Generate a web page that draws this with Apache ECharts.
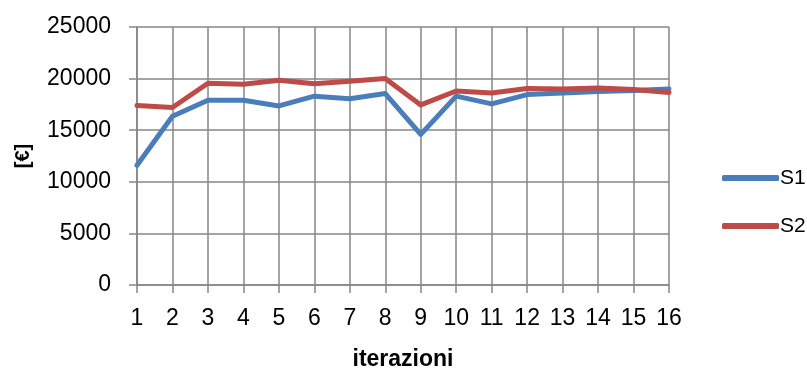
<!DOCTYPE html>
<html>
<head>
<meta charset="utf-8">
<script src="https://cdn.jsdelivr.net/npm/echarts@6/dist/echarts.min.js"></script>
<style>html,body{margin:0;padding:0;background:#fff}#c{width:807px;height:369px}</style>
</head>
<body>
<div id="c"></div>
<script>
var categories = ['1','2','3','4','5','6','7','8','9','10','11','12','13','14','15','16'];
var s1 = [11600, 16350, 17900, 17900, 17350, 18300, 18050, 18550, 14600, 18300, 17550, 18450, 18600, 18750, 18850, 19000];
var s2 = [17400, 17200, 19550, 19450, 19850, 19500, 19750, 20000, 17450, 18800, 18600, 19050, 19000, 19100, 18950, 18650];
var seriesNames = ['S1', 'S2'];
var yTicks = {min: 0, max: 25000, interval: 5000};

var font = 'Liberation Sans';
var gridColor = '#868686';
var chart = echarts.init(document.getElementById('c'), null, {renderer: 'canvas'});
chart.setOption({
  animation: false,
  backgroundColor: '#fff',
  grid: {left: 137, right: 138, top: 27, bottom: 84, containLabel: false, outerBoundsMode: 'none'},
  xAxis: {
    type: 'category',
    data: categories,
    boundaryGap: false,
    name: 'iterazioni',
    nameLocation: 'middle',
    nameGap: 63,
    nameTextStyle: {fontFamily: font, fontWeight: 'bold', fontSize: 23, color: '#000'},
    axisLine: {lineStyle: {color: gridColor, width: 1.5}},
    axisTick: {show: true, inside: false, length: 8, lineStyle: {color: gridColor, width: 1.5}},
    axisLabel: {fontFamily: font, fontSize: 23, color: '#000', margin: 22, interval: 0},
    splitLine: {show: true, lineStyle: {color: gridColor, width: 1.5}}
  },
  yAxis: {
    type: 'value',
    min: yTicks.min, max: yTicks.max, interval: yTicks.interval,
    name: '[€]',
    nameLocation: 'middle',
    nameGap: 104,
    nameRotate: 90,
    nameTextStyle: {fontFamily: font, fontWeight: 'bold', fontSize: 20, color: '#000'},
    axisLine: {show: true, lineStyle: {color: gridColor, width: 1.5}},
    axisTick: {show: true, inside: false, length: 8, lineStyle: {color: gridColor, width: 1.5}},
    axisLabel: {fontFamily: font, fontSize: 23, color: '#000', margin: 26, formatter: function (v) { return String(v); }},
    splitLine: {show: true, lineStyle: {color: gridColor, width: 1.5}}
  },
  legend: {
    orient: 'vertical',
    left: 722,
    top: 167,
    padding: 0,
    itemWidth: 57,
    itemHeight: 6,
    itemGap: 26,
    icon: 'roundRect',
    textStyle: {fontFamily: font, fontSize: 21, color: '#000', lineHeight: 22, padding: [0,0,0,-4]},
    data: seriesNames
  },
  series: [
    {name: seriesNames[0], type: 'line', data: s1, symbol: 'none', lineStyle: {color: '#4A7EBB', width: 5, cap: 'round', join: 'round'}, itemStyle: {color: '#4A7EBB'}},
    {name: seriesNames[1], type: 'line', data: s2, symbol: 'none', lineStyle: {color: '#BE4B48', width: 5, cap: 'round', join: 'round'}, itemStyle: {color: '#BE4B48'}}
  ]
});
</script>
</body>
</html>
